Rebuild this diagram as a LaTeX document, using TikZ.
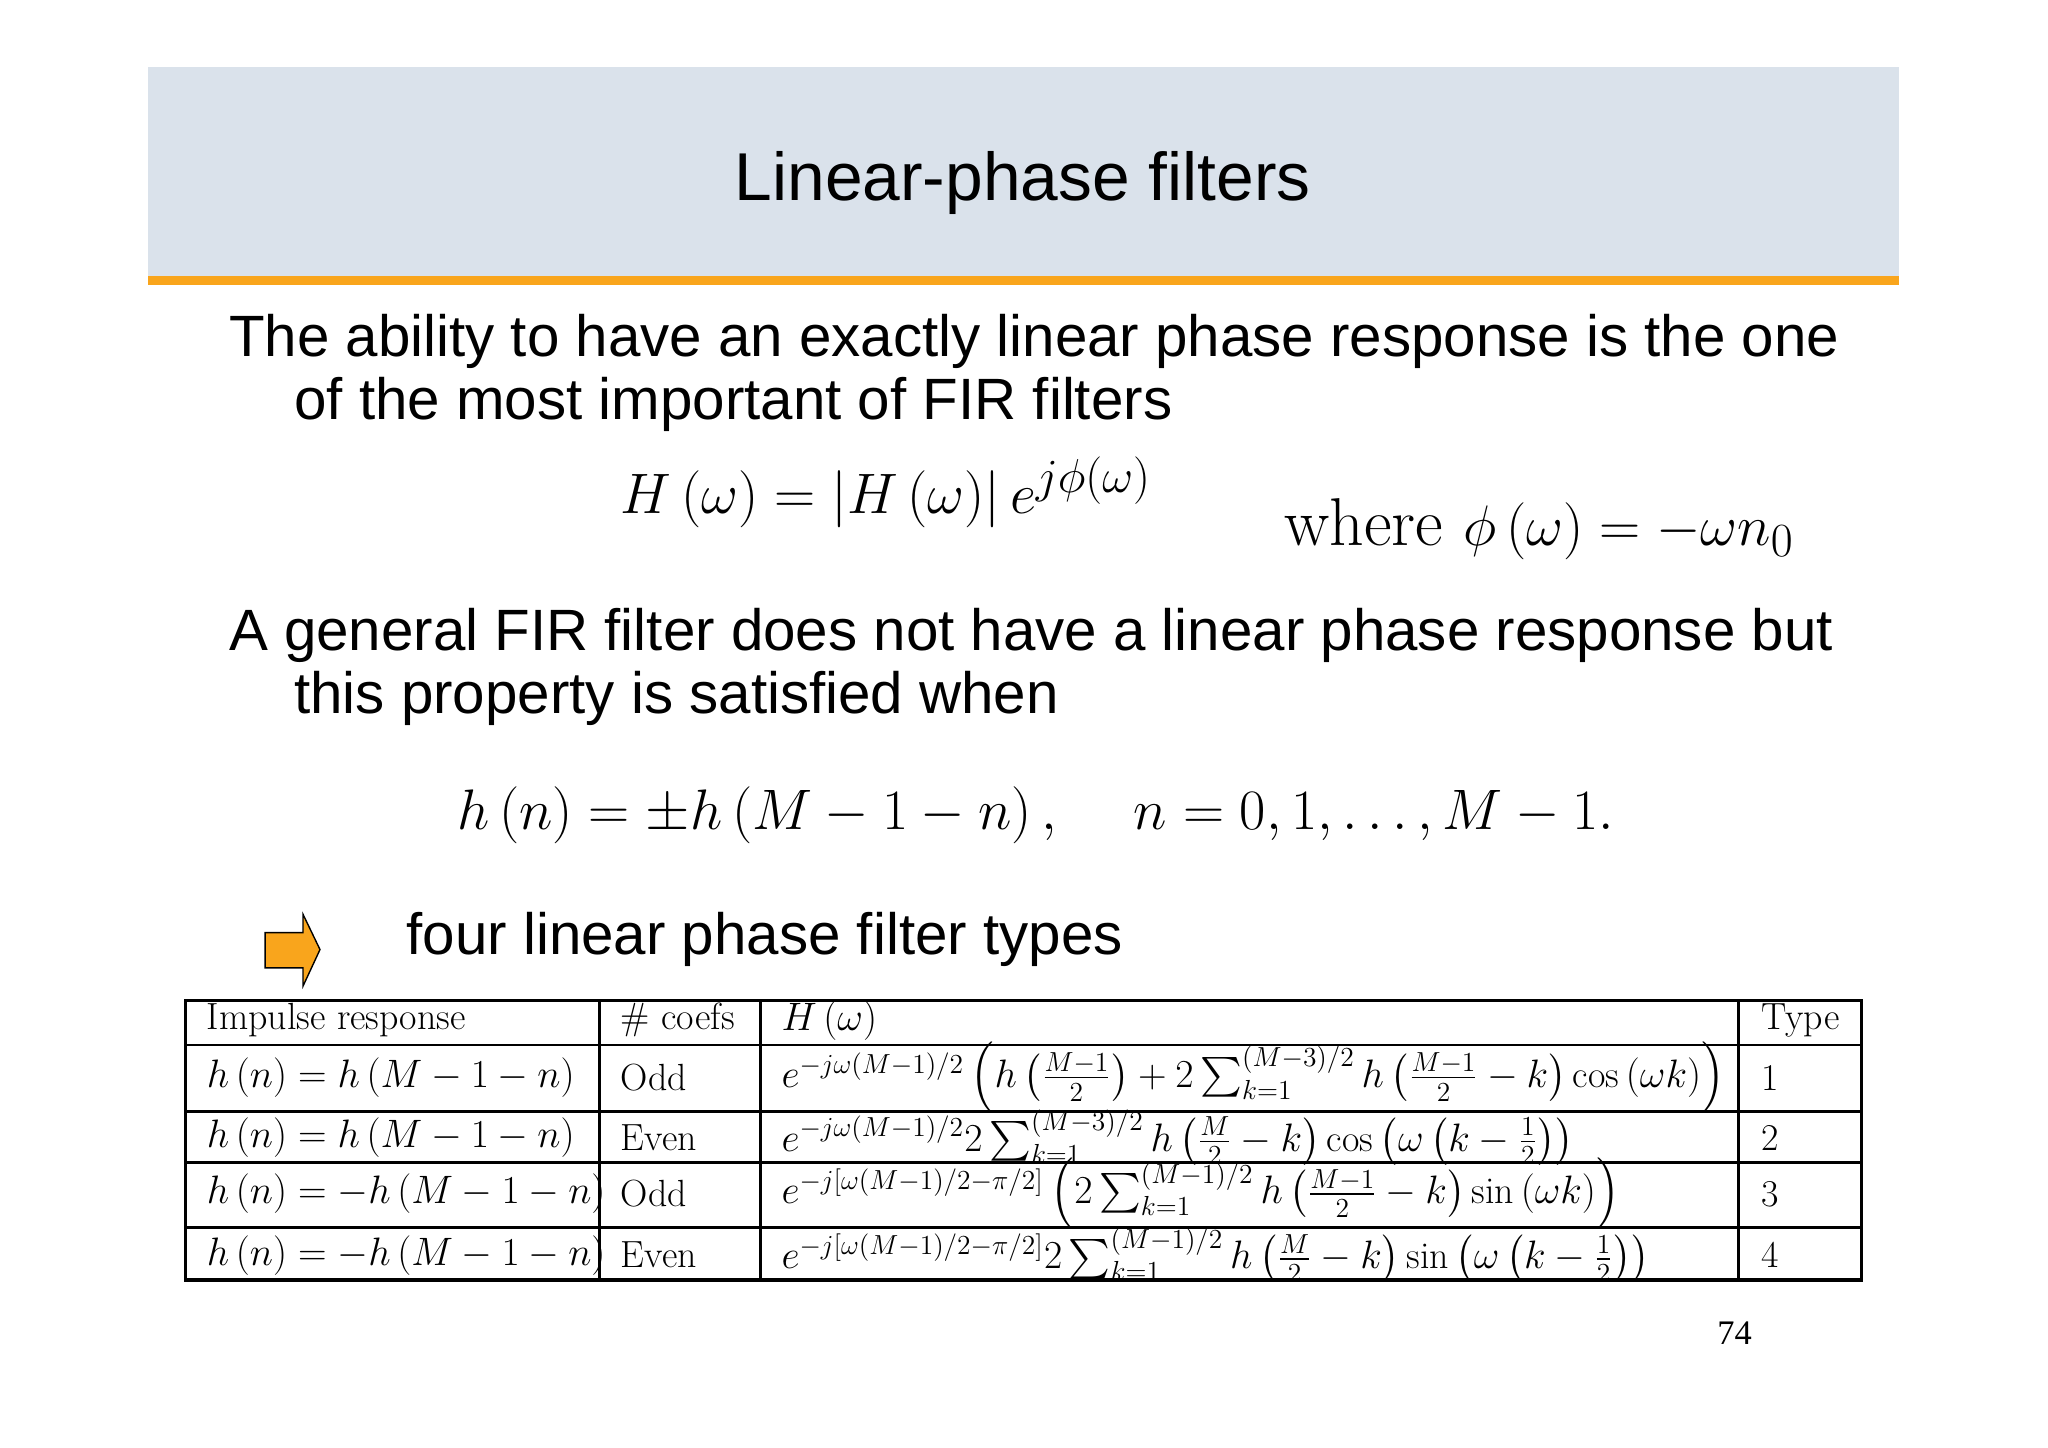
\documentclass[tikz,border=0pt]{standalone}
\usepackage{fontspec}
\usepackage{amsmath}
\newfontfamily\arial{Liberation Sans}
\newfontfamily\tnr{Liberation Serif}
\definecolor{hdr}{HTML}{DAE2EB}
\definecolor{org}{HTML}{F9A51C}
\begin{document}
\begin{tikzpicture}[x=0.02cm,y=-0.02cm,
  body/.style={anchor=base west,inner sep=0,font=\arial\fontsize{25.4}{30}\selectfont},
  tab/.style={anchor=west,inner sep=0,font=\fontsize{16.5}{19}\selectfont},
  eq/.style={anchor=base west,inner sep=0,font=\fontsize{29.5}{34}\selectfont}]
\useasboundingbox (0,0) rectangle (1568,1108);
\fill[white] (0,0) rectangle (1568,1108);
\fill[hdr] (113,51) rectangle (1454,212);
\fill[org] (113,211) rectangle (1454,218);
\node[font=\arial\fontsize{29.5}{34}\selectfont] (title) at (783,140) {Linear-phase filters};
\node[body] (p1a) at (175,273) {The ability to have an exactly linear phase response is the one};
\node[body] (p1b) at (225,321) {of the most important of FIR filters};
\node[eq] (e1) at (475,393) {$H\left(\omega\right)=\left|H\left(\omega\right)\right|e^{j\phi(\omega)}$};
\node[eq] (e2) at (983,418) {where $\phi\left(\omega\right)=-\omega n_0$};
\node[body] (p2a) at (175,498) {A general FIR filter does not have a linear phase response but};
\node[body] (p2b) at (225,546) {this property is satisfied when};
\node[eq] (e3) at (350,635) {$h\left(n\right)=\pm h\left(M-1-n\right),\quad n=0,1,\ldots,M-1.$};
\draw[black,fill=org,line width=0.6pt] (203,714) -- (232,714) -- (232,700) -- (245,727) -- (232,755) -- (232,741) -- (203,741) -- cycle;
\coordinate (arr) at (224,727);
\node[body] (p3) at (311,731) {four linear phase filter types};
% table
\draw[line width=1.4pt] (142,766) rectangle (1425,980);
\foreach \y in {800,851,890,940} \draw[line width=1.2pt] (142,\y) -- (1425,\y);
\foreach \x in {459,582,1331} \draw[line width=1.2pt] (\x,766) -- (\x,980);
\node[tab] (h0) at (158,781) {Impulse response};
\node[tab] (h1) at (475,781) {\# coefs};
\node[tab] (h2) at (598,781) {$H\left(\omega\right)$};
\node[tab] (h3) at (1348,781) {Type};
\node[tab] (a0) at (158,825) {$h\left(n\right)=h\left(M-1-n\right)$};
\node[tab] (a1) at (475,825) {Odd};
\node[tab] (a2) at (598,825) {$e^{-j\omega(M-1)/2}\left(h\left(\frac{M-1}{2}\right)+2\sum_{k=1}^{(M-3)/2}h\left(\frac{M-1}{2}-k\right)\cos\left(\omega k\right)\right)$};
\node[tab] (a3) at (1348,825) {1};
\node[tab] (b0) at (158,871) {$h\left(n\right)=h\left(M-1-n\right)$};
\node[tab] (b1) at (475,871) {Even};
\node[tab] (b2) at (598,871) {$e^{-j\omega(M-1)/2}2\sum_{k=1}^{(M-3)/2}h\left(\frac{M}{2}-k\right)\cos\left(\omega\left(k-\frac{1}{2}\right)\right)$};
\node[tab] (b3) at (1348,871) {2};
\node[tab] (c0) at (158,914) {$h\left(n\right)=-h\left(M-1-n\right)$};
\node[tab] (c1) at (475,914) {Odd};
\node[tab] (c2) at (598,914) {$e^{-j[\omega(M-1)/2-\pi/2]}\left(2\sum_{k=1}^{(M-1)/2}h\left(\frac{M-1}{2}-k\right)\sin\left(\omega k\right)\right)$};
\node[tab] (c3) at (1348,914) {3};
\node[tab] (d0) at (158,961) {$h\left(n\right)=-h\left(M-1-n\right)$};
\node[tab] (d1) at (475,961) {Even};
\node[tab] (d2) at (598,961) {$e^{-j[\omega(M-1)/2-\pi/2]}2\sum_{k=1}^{(M-1)/2}h\left(\frac{M}{2}-k\right)\sin\left(\omega\left(k-\frac{1}{2}\right)\right)$};
\node[tab] (d3) at (1348,961) {4};
\node[font=\tnr\fontsize{15}{17}\selectfont] (pg) at (1328,1021) {74};
\end{tikzpicture}
\end{document}
